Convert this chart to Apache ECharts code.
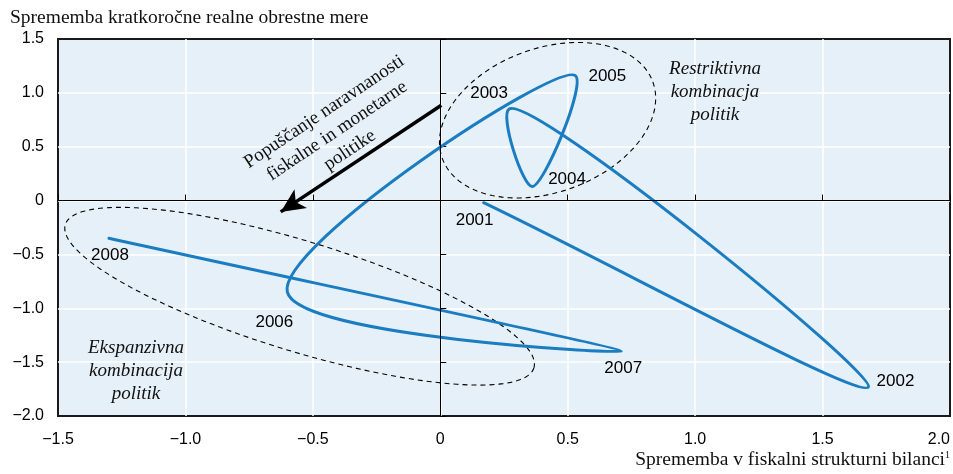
<!DOCTYPE html>
<html><head><meta charset="utf-8">
<script src="https://cdn.jsdelivr.net/npm/echarts@6/dist/echarts.min.js"></script>
<style>html,body{margin:0;padding:0;background:#fff}#c{width:953px;height:474px}</style>
</head><body><div id="c"></div>
<script>
// ---- data ----
const years = ['2001', '2002', '2003', '2004', '2005', '2006', '2007', '2008'];
const fiscalChange = [0.17, 1.68, 0.27, 0.36, 0.53, -0.60, 0.71, -1.30];
const rateChange = [-0.02, -1.73, 0.85, 0.13, 1.16, -0.85, -1.40, -0.35];
const yTitle = 'Sprememba kratkoročne realne obrestne mere';
const xTitle = 'Sprememba v fiskalni strukturni bilanci';
const arrowText = 'Popuščanje naravnanosti\nfiskalne in monetarne\npolitike';
const restrictText = 'Restriktivna\nkombinacja\npolitik';
const expandText = 'Ekspanzivna\nkombinacija\npolitik';

// ---- layout / styling ----
const labelOffsets = {
  '2001': [-9, 18], '2002': [27, -6], '2003': [-20, -16], '2004': [35, -7],
  '2005': [32, 1], '2006': [-13, 30], '2007': [2, 17], '2008': [1, 17]
};
const arrowFrom = [0.004, 0.885];
const arrowTo = [-0.626, -0.105];
const ellipses = [
  { c: [0.421, 0.746], a: 112, b: 72, rot: -20 },
  { c: [-0.552, -0.888], a: 245, b: 55, rot: 17 }
];
const sans = "'Liberation Sans', Arial, sans-serif";
const serif = "'Liberation Serif', 'Times New Roman', serif";
const lineColor = '#1a7cc1';

const fmt = v => v === 0 ? '0' : v.toFixed(1).replace('-', '\u2212');

const chart = echarts.init(document.getElementById('c'));
const pointData = years.map((y, i) => [fiscalChange[i], rateChange[i], y]);
const labelData = years.map((y, i) => ({
  value: [fiscalChange[i], rateChange[i]],
  name: y,
  label: { offset: labelOffsets[y] }
}));

// centripetal Catmull-Rom through the points, drawn via the axes' own coord transform
function renderCurve(params, api) {
  if (params.dataIndexInside !== 0) return null;
  const n = years.length;
  const P = [];
  for (let j = 0; j < n; j++) P.push(api.coord([api.value(0, j), api.value(1, j)]));
  const get = j => {
    if (j < 0) return [2 * P[0][0] - P[1][0], 2 * P[0][1] - P[1][1]];
    if (j >= n) return [2 * P[n - 1][0] - P[n - 2][0], 2 * P[n - 1][1] - P[n - 2][1]];
    return P[j];
  };
  const dist = (a, b) => Math.pow(Math.hypot(b[0] - a[0], b[1] - a[1]), 0.5) || 1e-6;
  let d = 'M' + P[0][0] + ' ' + P[0][1];
  for (let i = 0; i < n - 1; i++) {
    const p0 = get(i - 1), p1 = get(i), p2 = get(i + 1), p3 = get(i + 2);
    const t01 = dist(p0, p1), t12 = dist(p1, p2), t23 = dist(p2, p3);
    const m1 = [0, 1].map(k => ((p1[k] - p0[k]) / t01 - (p2[k] - p0[k]) / (t01 + t12) + (p2[k] - p1[k]) / t12) * t12);
    const m2 = [0, 1].map(k => ((p2[k] - p1[k]) / t12 - (p3[k] - p1[k]) / (t12 + t23) + (p3[k] - p2[k]) / t23) * t12);
    const c1 = [p1[0] + m1[0] / 3, p1[1] + m1[1] / 3];
    const c2 = [p2[0] - m2[0] / 3, p2[1] - m2[1] / 3];
    d += ' C' + c1[0] + ' ' + c1[1] + ' ' + c2[0] + ' ' + c2[1] + ' ' + p2[0] + ' ' + p2[1];
  }
  return {
    type: 'path',
    shape: { pathData: d },
    style: { stroke: lineColor, fill: 'none', lineWidth: 3, lineJoin: 'round', lineCap: 'round' }
  };
}

chart.setOption({
  animation: false,
  grid: {
    left: 58, right: 3, top: 39, bottom: 58,
    show: true, backgroundColor: '#e6f0f8', borderColor: '#1a1a1a', borderWidth: 2
  },
  xAxis: {
    type: 'value', min: -1.5, max: 2.0, interval: 0.5,
    axisLine: { show: false },
    axisTick: { show: true, inside: true, length: 6, lineStyle: { color: '#000', width: 1 } },
    axisLabel: { formatter: fmt, color: '#000', fontSize: 16, fontFamily: sans, margin: 16, alignMaxLabel: 'right' },
    splitLine: { show: true, showMinLine: false, showMaxLine: false, lineStyle: { color: '#fff', width: 1.5 } }
  },
  yAxis: {
    type: 'value', min: -2.0, max: 1.5, interval: 0.5,
    axisLine: { show: false },
    axisTick: { show: true, inside: true, length: 6, lineStyle: { color: '#000', width: 1 } },
    axisLabel: { formatter: fmt, color: '#000', fontSize: 16, fontFamily: sans, margin: 14 },
    splitLine: { show: true, showMinLine: false, showMaxLine: false, lineStyle: { color: '#fff', width: 1.5 } }
  },
  series: [
    {
      type: 'line', z: 1, data: [], silent: true,
      markLine: {
        silent: true, symbol: 'none', animation: false,
        label: { show: false },
        lineStyle: { color: '#000', width: 1, type: 'solid' },
        data: [{ xAxis: 0 }, { yAxis: 0 }]
      }
    },
    {
      type: 'custom', z: 3, silent: true,
      renderItem: renderCurve,
      encode: { x: 0, y: 1 },
      data: pointData
    },
    {
      type: 'scatter', z: 4, silent: true,
      data: labelData, symbolSize: 1,
      itemStyle: { color: 'rgba(0,0,0,0)' },
      label: {
        show: true, position: 'inside', formatter: p => p.name,
        color: '#000', opacity: 1, fontSize: 17, fontFamily: sans,
        textBorderWidth: 0, textBorderColor: 'transparent'
      },
      markLine: {
        silent: true, animation: false,
        symbol: ['none', 'arrow'], symbolSize: [17, 24],
        label: { show: false },
        lineStyle: { color: '#000', width: 3.5, type: 'solid' },
        data: [[{ coord: arrowFrom }, { coord: arrowTo }]]
      }
    }
  ]
});

function ellipsePoints(e) {
  const c = chart.convertToPixel({ gridIndex: 0 }, e.c);
  const th = e.rot * Math.PI / 180;
  const pts = [];
  for (let k = 0; k <= 180; k++) {
    const t = k / 180 * 2 * Math.PI;
    pts.push([
      c[0] + e.a * Math.cos(t) * Math.cos(th) - e.b * Math.sin(t) * Math.sin(th),
      c[1] + e.a * Math.cos(t) * Math.sin(th) + e.b * Math.sin(t) * Math.cos(th)
    ]);
  }
  return pts;
}

chart.setOption({
  graphic: [
    ...ellipses.map(e => ({
      type: 'polyline', z: 2, silent: true,
      shape: { points: ellipsePoints(e) },
      style: { stroke: '#000', fill: null, lineWidth: 1.1, lineDash: [5, 4] }
    })),
    {
      type: 'text', left: 10, top: 8, z: 5,
      style: { text: yTitle, font: '19.5px ' + serif, fill: '#111' }
    },
    {
      type: 'text', right: 3, top: 450, z: 5,
      style: {
        text: '{a|' + xTitle + '}{s|1}',
        rich: {
          a: { font: '19.5px ' + serif, fill: '#111' },
          s: { font: '10px ' + serif, fill: '#111', verticalAlign: 'top', padding: [0, 0, 10, 0] }
        }
      }
    },
    {
      type: 'text', x: 337, y: 131, rotation: 33.8 * Math.PI / 180, z: 5,
      style: { text: arrowText, font: '19px ' + serif, fill: '#111', align: 'center', verticalAlign: 'middle', lineHeight: 23 }
    },
    {
      type: 'text', x: 715, y: 92, z: 5,
      style: { text: restrictText, font: 'italic 19px ' + serif, fill: '#111', align: 'center', verticalAlign: 'middle', lineHeight: 23 }
    },
    {
      type: 'text', x: 136, y: 371, z: 5,
      style: { text: expandText, font: 'italic 19px ' + serif, fill: '#111', align: 'center', verticalAlign: 'middle', lineHeight: 23 }
    }
  ]
});
</script></body></html>
